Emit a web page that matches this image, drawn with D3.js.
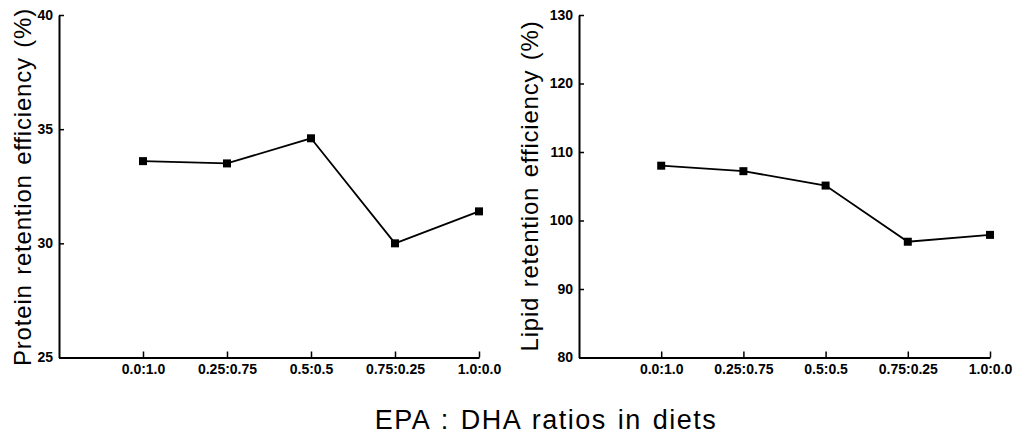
<!DOCTYPE html>
<html>
<head>
<meta charset="utf-8">
<script src="https://cdn.jsdelivr.net/npm/d3@7"></script>
<style>
  body { margin: 0; background: #fff; }
  text { font-family: "Liberation Sans", Arial, Helvetica, sans-serif; fill: #000; }
</style>
</head>
<body>
<div id="chart"></div>
<script>
const ratios = ["0.0:1.0", "0.25:0.75", "0.5:0.5", "0.75:0.25", "1.0:0.0"];
const proteinValues = [33.6, 33.5, 34.6, 30.0, 31.4];
const lipidValues = [108.0, 107.2, 105.1, 96.9, 97.9];
const proteinTicks = [25, 30, 35, 40];
const lipidTicks = [80, 90, 100, 110, 120, 130];

const width = 1017, height = 435;

const svg = d3.select("#chart").append("svg")
    .attr("width", width)
    .attr("height", height);

const plotTop = 15, plotBottom = 357.5;

function panel(opts) {
    const g = svg.append("g");

    // index -1 sits on the y axis, categories at 0..4
    const x = d3.scaleLinear()
        .domain([-1, ratios.length - 1])
        .range([opts.left, opts.right]);

    const y = d3.scaleLinear()
        .domain(opts.domain)
        .range([plotBottom, plotTop]);

    const xAxis = d3.axisBottom(x)
        .tickValues(d3.range(ratios.length))
        .tickFormat(i => ratios[i])
        .tickSizeInner(-6)
        .tickSizeOuter(0)
        .tickPadding(7);

    const yAxis = d3.axisLeft(y)
        .tickValues(opts.ticks)
        .tickSizeInner(-5)
        .tickSizeOuter(0)
        .tickPadding(6);

    const xg = g.append("g")
        .attr("transform", `translate(0,${plotBottom})`)
        .call(xAxis);
    const yg = g.append("g")
        .attr("transform", `translate(${opts.left},0)`)
        .call(yAxis);

    [xg, yg].forEach(a => {
        a.select(".domain").attr("stroke", "#000").attr("stroke-width", 2);
        a.selectAll(".tick line").attr("stroke", "#000").attr("stroke-width", 1.5);
        a.selectAll("text")
            .style("font-size", "14px")
            .style("font-weight", "bold");
    });

    const line = d3.line()
        .x((d, i) => x(i))
        .y(d => y(d));

    g.append("path")
        .datum(opts.values)
        .attr("fill", "none")
        .attr("stroke", "#000")
        .attr("stroke-width", 1.8)
        .attr("d", line);

    g.selectAll("rect.pt")
        .data(opts.values)
        .enter()
        .append("rect")
        .attr("class", "pt")
        .attr("x", (d, i) => x(i) - 4)
        .attr("y", d => y(d) - 4)
        .attr("width", 8)
        .attr("height", 8)
        .attr("fill", "#000");

    // y axis label
    svg.append("text")
        .attr("transform", `translate(${opts.labelX},${opts.labelY}) rotate(-90)`)
        .attr("text-anchor", "middle")
        .style("font-size", "24px")
        .style("letter-spacing", "0.8px")
        .style("word-spacing", "2px")
        .text(opts.label);
}

panel({
    left: 59, right: 479,
    domain: [25, 40], ticks: proteinTicks,
    values: proteinValues,
    labelX: 31, labelY: 187,
    label: "Protein retention efficiency (%)"
});

panel({
    left: 579, right: 990,
    domain: [80, 130], ticks: lipidTicks,
    values: lipidValues,
    labelX: 538, labelY: 186,
    label: "Lipid retention efficiency (%)"
});

// shared x title
svg.append("text")
    .attr("x", 546)
    .attr("y", 429)
    .attr("text-anchor", "middle")
    .style("font-size", "27px")
    .style("letter-spacing", "1.5px")
    .style("word-spacing", "2px")
    .text("EPA : DHA ratios in diets");
</script>
</body>
</html>
